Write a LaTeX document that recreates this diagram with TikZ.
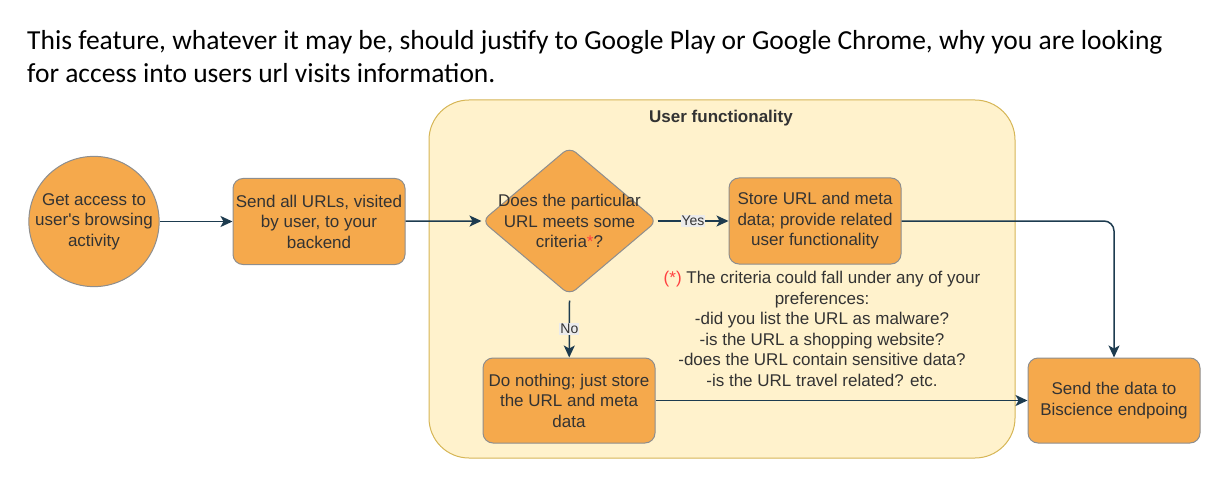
\documentclass[tikz,border=0pt]{standalone}
\usepackage{fontspec}
\setmainfont{Carlito}
\newfontfamily\arialf{Liberation Sans}
\usetikzlibrary{shapes.geometric,arrows.meta}
\definecolor{boxfill}{HTML}{F5A94C}
\definecolor{boxline}{HTML}{8E8E8E}
\definecolor{grpfill}{HTML}{FFF2CC}
\definecolor{grpline}{HTML}{D6B656}
\definecolor{arrowc}{HTML}{1D3B4F}
\definecolor{txtc}{HTML}{333333}
\definecolor{starred}{HTML}{FF4040}
\definecolor{lblbg}{HTML}{EBEBEB}
\tikzset{
  dtext/.style={font=\arialf\fontsize{17}{20.5}\selectfont, text=txtc, align=center},
  procbox/.style={dtext, draw=boxline, fill=boxfill, line width=1pt, rounded corners=10pt,
    minimum width=172pt, minimum height=86pt, inner sep=0pt},
  startcirc/.style={dtext, draw=boxline, fill=boxfill, line width=1pt, circle,
    minimum size=129pt, inner sep=0pt},
  decis/.style={draw=boxline, fill=boxfill, line width=1pt, diamond, rounded corners=8pt,
    minimum width=175pt, minimum height=148pt, inner sep=0pt},
  flow/.style={draw=arrowc, line width=1.5pt, -{Stealth[length=12pt,width=11pt,inset=3pt]}},
  elbl/.style={font=\arialf\fontsize{14}{16}\selectfont, text=txtc, fill=lblbg, inner sep=1pt},
  titletext/.style={font=\fontsize{27.5}{33}\selectfont, text=black, inner sep=0pt, anchor=base west},
}
\begin{document}
\begin{tikzpicture}[x=1pt,y=-1pt]
\useasboundingbox (0,0) rectangle (1222,497);
% title
\node[titletext] (title1) at (27,50) {This feature, whatever it may be, should justify to Google Play or Google Chrome, why you are looking};
\node[titletext] (title2) at (27,83) {for access into users url visits information.};
% group container
\node[draw=grpline, fill=grpfill, line width=1pt, rounded corners=40pt, minimum width=586pt,
  minimum height=358pt, inner sep=0pt] (grp) at (722,279) {};
\node[font=\arialf\bfseries\fontsize{17}{20}\selectfont, text=txtc, inner sep=0pt] (grptitle) at (721,118) {User functionality};
% nodes
\node[startcirc] (start) at (94,221.5) {Get access to\\user's browsing\\activity};
\node[procbox] (send) at (319,221.5) {Send all URLs, visited\\by user, to your\\backend};
\node[decis] (dec) at (569.5,221) {};
\node[dtext, inner sep=0pt] (dectext) at (569.5,221) {Does the particular\\URL meets some\\criteria\textcolor{starred}{*}?};
\node[procbox] (store) at (815,221) {Store URL and meta\\data; provide related\\user functionality};
\node[procbox, minimum width=172pt, minimum height=85pt] (nothing) at (569,400.5) {Do nothing; just store\\the URL and meta\\data};
\node[procbox, minimum width=172pt, minimum height=85pt] (endp) at (1114,400.5) {Send the data to\\Biscience endpoing};
\node[dtext, inner sep=0pt] (note) at (822,329) {\textcolor{starred}{(*)} The criteria could fall under any of your\\preferences:\\-did you list the URL as malware?\\-is the URL a shopping website?\\-does the URL contain sensitive data?\\-is the URL travel related? etc.};
% connectors
\draw[flow] (start) -- (send);
\draw[flow] (send) -- (dec.west);
\draw[flow] (dec.east) -- node[elbl] {Yes} (store);
\draw[flow] (dec.south) ++(0,5) coordinate (decbot) -- node[elbl] {No} (nothing);
\draw[flow, rounded corners=10pt] (store.east) -| (endp.north);
\draw[flow] (nothing.east) -- (endp.west);
\end{tikzpicture}
\end{document}
